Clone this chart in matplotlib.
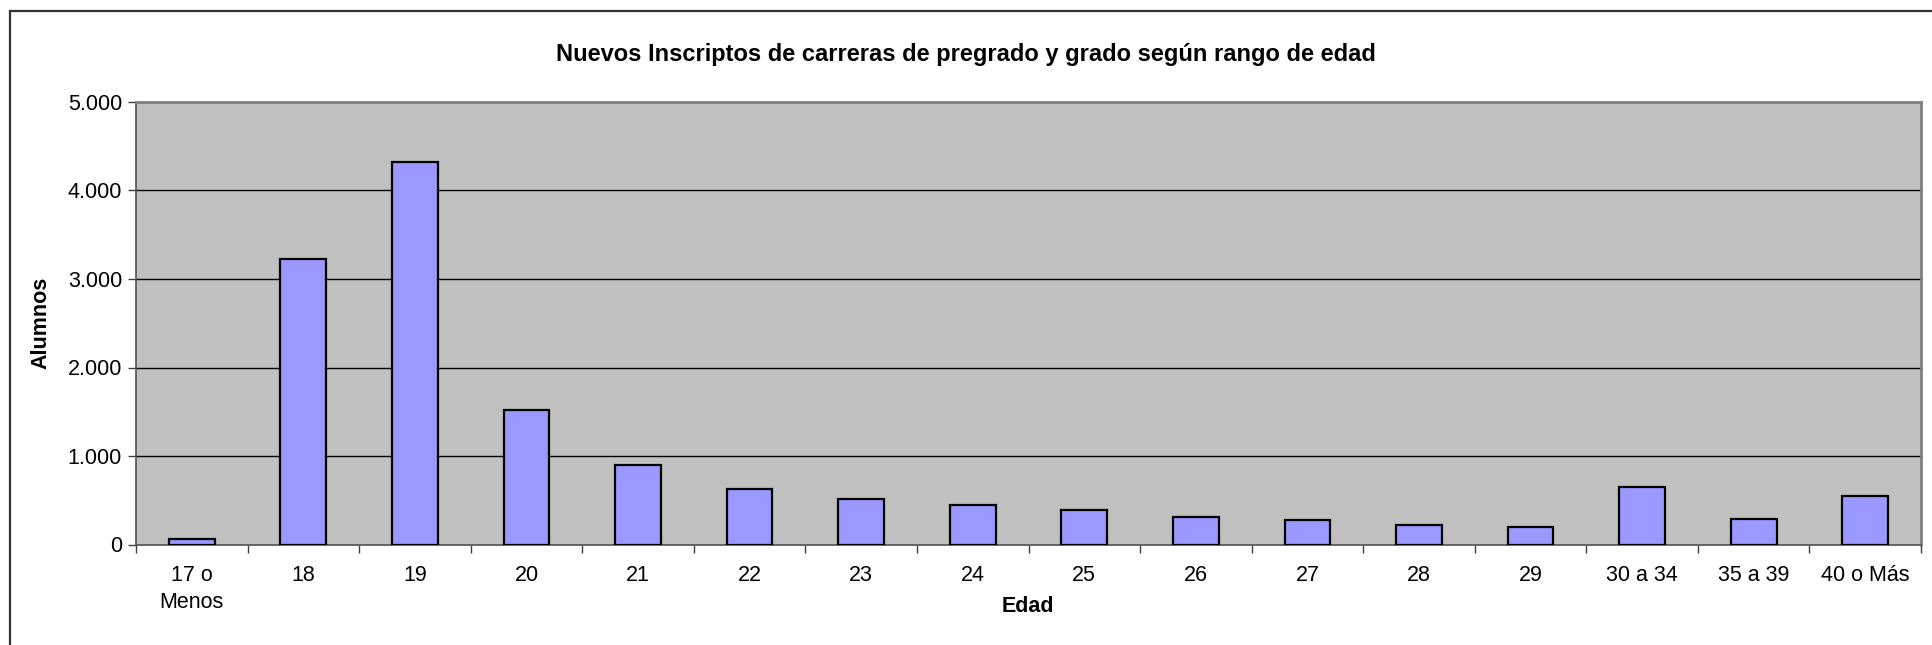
import numpy as np
import matplotlib.pyplot as plt
from matplotlib.patches import Rectangle
from matplotlib.ticker import FuncFormatter, FixedLocator

plt.rcParams['font.family'] = ['Liberation Sans', 'DejaVu Sans']

edades = ['17 o\nMenos', '18', '19', '20', '21', '22', '23', '24', '25',
          '26', '27', '28', '29', '30 a 34', '35 a 39', '40 o Más']
alumnos = [60, 3222, 4322, 1521, 894, 630, 509, 445, 392,
           313, 273, 215, 200, 653, 286, 545]
y_ticks = [0, 1000, 2000, 3000, 4000, 5000]

W, H = 1932, 645
fig = plt.figure(figsize=(W / 100, H / 100), dpi=100)
ax = fig.add_axes([136 / W, 1 - 544.5 / H, 1785 / W, 442.5 / H])

# marco exterior del grafico
fig.patches.append(Rectangle((10 / W, -0.05), 1.1, 1 - 11 / H + 0.05,
                             transform=fig.transFigure, fill=False,
                             edgecolor='#303030', linewidth=1.6))

x = np.arange(len(edades))
ax.set_facecolor('#C0C0C0')
ax.bar(x, alumnos, width=0.41, color='#9999FF', edgecolor='black',
       linewidth=1.6, zorder=3)

ax.set_ylim(0, 5000)
ax.set_xlim(-0.5, len(edades) - 0.5)
ax.set_yticks(y_ticks)
ax.yaxis.set_major_formatter(FuncFormatter(lambda v, p: f'{int(v):,}'.replace(',', '.')))
for v in y_ticks[1:-1]:
    ax.axhline(v, color='black', linewidth=1, zorder=1)

ax.set_xticks(x)
ax.set_xticklabels(edades)
ax.xaxis.set_minor_locator(FixedLocator(np.arange(len(edades) + 1) - 0.5))
ax.tick_params(axis='x', which='major', length=0, pad=15, labelsize=15.5)
ax.tick_params(axis='x', which='minor', length=6, width=1, color='#404040', direction='out')
ax.tick_params(axis='y', length=6, width=1, color='#404040', labelsize=15.5, pad=4)
for lbl in ax.get_xticklabels():
    lbl.set_verticalalignment('top')
    lbl.set_linespacing(1.35)

for s in ['top', 'right']:
    ax.spines[s].set_color('#808080')
    ax.spines[s].set_linewidth(2)
for s in ['left', 'bottom']:
    ax.spines[s].set_color('#505050')
    ax.spines[s].set_linewidth(1.2)

fig.text(41 / W, 1 - 323 / H, 'Alumnos', rotation=90, ha='center', va='center',
         fontsize=15.5, fontweight='bold')
fig.text(1028 / W, 1 - 606 / H, 'Edad', ha='center', va='center',
         fontsize=15.5, fontweight='bold')
fig.text(0.5, 1 - 54 / H,
         'Nuevos Inscriptos de carreras de pregrado y grado según rango de edad',
         ha='center', va='center', fontsize=17, fontweight='bold')

fig.savefig('out.png', dpi=100)
